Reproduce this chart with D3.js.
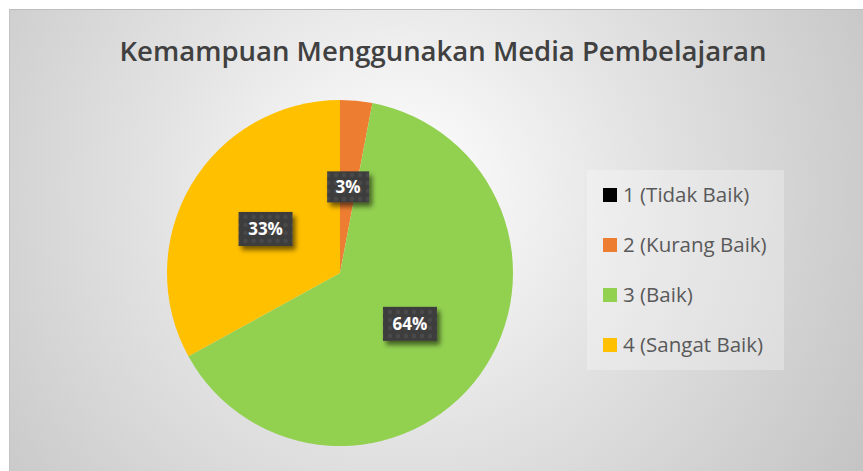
<!DOCTYPE html>
<html>
<head>
<meta charset="utf-8">
<script src="https://cdn.jsdelivr.net/npm/d3@7/dist/d3.min.js"></script>
<style>
  html, body { margin: 0; padding: 0; background: #ffffff; }
  svg { display: block; }
</style>
</head>
<body>
<svg id="chart" width="863" height="471"></svg>
<script>
const title = "Kemampuan Menggunakan Media Pembelajaran";
const categories = ["1 (Tidak Baik)", "2 (Kurang Baik)", "3 (Baik)", "4 (Sangat Baik)"];
const values = [0, 3, 64, 33];
const colors = ["#000000", "#ED7D31", "#92D050", "#FFC000"];

const W = 863, H = 471;
const svg = d3.select("#chart");
const defs = svg.append("defs");

// background gradient
const bg = defs.append("radialGradient").attr("id", "bgGrad")
  .attr("gradientUnits", "userSpaceOnUse")
  .attr("cx", 400).attr("cy", 190).attr("r", 560);
bg.append("stop").attr("offset", "0").attr("stop-color", "#ffffff");
bg.append("stop").attr("offset", "0.45").attr("stop-color", "#e2e2e2");
bg.append("stop").attr("offset", "1").attr("stop-color", "#c2c2c2");

// dotted dark pattern for label boxes
const pat = defs.append("pattern").attr("id", "dots")
  .attr("patternUnits", "userSpaceOnUse").attr("width", 8).attr("height", 8);
pat.append("rect").attr("width", 8).attr("height", 8).attr("fill", "#3d3d3d");
pat.append("circle").attr("cx", 4).attr("cy", 4).attr("r", 2.2).attr("fill", "#4a4a4a");

const sh = defs.append("filter").attr("id", "shadow")
  .attr("x", "-30%").attr("y", "-30%").attr("width", "170%").attr("height", "180%");
sh.append("feGaussianBlur").attr("in", "SourceAlpha").attr("stdDeviation", 2.5).attr("result", "b");
sh.append("feOffset").attr("in", "b").attr("dx", 3).attr("dy", 4).attr("result", "o");
sh.append("feComponentTransfer").attr("in", "o").attr("result", "o2")
  .append("feFuncA").attr("type", "linear").attr("slope", 0.55);
const m = sh.append("feMerge");
m.append("feMergeNode").attr("in", "o2");
m.append("feMergeNode").attr("in", "SourceGraphic");

// chart area
svg.append("rect").attr("x", 9).attr("y", 9).attr("width", W - 9).attr("height", H - 9)
  .attr("fill", "url(#bgGrad)");
svg.append("line").attr("x1", 9).attr("x2", W).attr("y1", 9.5).attr("y2", 9.5)
  .attr("stroke", "#bdbdbd").attr("stroke-width", 1);
svg.append("line").attr("x1", 9.5).attr("x2", 9.5).attr("y1", 9).attr("y2", H)
  .attr("stroke", "#c4c4c4").attr("stroke-width", 1);

// title
svg.append("text").attr("x", 443).attr("y", 61)
  .attr("text-anchor", "middle")
  .attr("font-family", "'Open Sans', sans-serif")
  .attr("font-weight", 600).attr("font-size", 27.5)
  .attr("fill", "#404040").text(title);

// pie
const cx = 340, cy = 273, R = 173;
const pie = d3.pie().sort(null).value(d => d.v);
const data = categories.map((c, i) => ({ c, v: values[i], col: colors[i] }));
const arcs = pie(data);
const arc = d3.arc().innerRadius(0).outerRadius(R);
const g = svg.append("g").attr("transform", `translate(${cx},${cy})`);
g.selectAll("path").data(arcs.filter(a => a.data.v > 0)).join("path")
  .attr("d", arc).attr("fill", d => d.data.col);

// labels
const lbl = g.selectAll("g.lbl").data(arcs.filter(a => a.data.v > 0)).join("g")
  .attr("class", "lbl")
  .attr("transform", d => { const [x, y] = arc.centroid(d); return `translate(${x},${y})`; });
lbl.each(function (d) {
  const s = d3.select(this);
  const txt = d.data.v + "%";
  const w = txt.length === 2 ? 42 : 54;
  const h = d.data.v < 10 ? 31 : 34;
  s.append("rect").attr("x", -w / 2).attr("y", -h / 2).attr("width", w).attr("height", h)
    .attr("fill", "url(#dots)").attr("filter", "url(#shadow)");
  s.append("text").attr("text-anchor", "middle").attr("dy", "0.36em")
    .attr("font-family", "'Open Sans', sans-serif").attr("font-weight", 700)
    .attr("font-size", 17).attr("fill", "#ffffff").text(txt);
});

// legend
svg.append("rect").attr("x", 587).attr("y", 170).attr("width", 197).attr("height", 200)
  .attr("fill", "#ffffff").attr("fill-opacity", 0.28);
const lg = svg.selectAll("g.leg").data(data).join("g").attr("class", "leg")
  .attr("transform", (d, i) => `translate(603,${188 + i * 50})`);
lg.append("rect").attr("width", 14).attr("height", 14).attr("fill", d => d.col);
lg.append("text").attr("x", 20).attr("y", 14)
  .attr("font-family", "'Open Sans', sans-serif").attr("font-size", 20.5)
  .attr("fill", "#595959").text(d => d.c);
</script>
</body>
</html>
